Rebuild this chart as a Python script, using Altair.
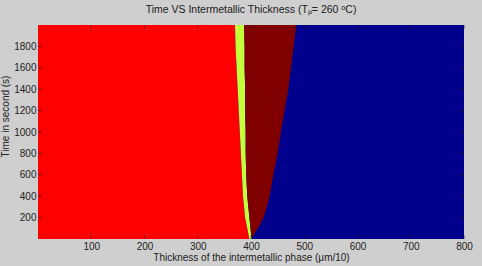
import altair as alt
import pandas as pd

# Time samples (s) and the phase boundaries read at each of them (µm/10)
time_s = [0, 100, 200, 400, 600, 800, 1000, 1200, 1400, 1600, 1800, 2000]
red_edge = [397, 393, 389, 385, 383, 381, 379, 377, 375, 373, 371, 370]
yellow_edge = [401, 399, 397, 393, 391, 390, 390, 389, 389, 388, 388, 387]
darkred_edge = [400, 413, 424, 435, 442, 450, 456, 463, 470, 475, 480, 485]

x_ticks = [100, 200, 300, 400, 500, 600, 700, 800]
y_ticks = [200, 400, 600, 800, 1000, 1200, 1400, 1600, 1800]

X_MIN, X_MAX = 0, 800
Y_MIN, Y_MAX = 0, 2000

W, H = 426, 214
FONT = "Liberation Sans"
GRAY = "#CFCFCF"

df = pd.DataFrame({
    "t": time_s,
    "lo": [X_MIN] * len(time_s),
    "a": red_edge,
    "b": yellow_edge,
    "c": darkred_edge,
})

xs = alt.Scale(domain=[X_MIN, X_MAX], nice=False, zero=False)
ys = alt.Scale(domain=[Y_MIN, Y_MAX], nice=False, zero=False)

x_axis = alt.Axis(values=x_ticks, format="d", ticks=False, domain=False, grid=False,
                  labelPadding=2, titlePadding=1, labelFlush=False,
                  title="Thickness of the intermetallic phase (μm/10)")
y_axis = alt.Axis(values=y_ticks, format="d", ticks=False, domain=False, grid=False,
                  labelPadding=2, titleX=-28, titleY=91, labelFlush=False,
                  title="Time in second (s)")

base = alt.Chart(df)


def band(x_field, x2_field, color):
    return base.mark_area(orient="horizontal", color=color, interpolate="linear").encode(
        y=alt.Y("t:Q", scale=ys, axis=y_axis),
        x=alt.X(f"{x_field}:Q", scale=xs, axis=x_axis),
        x2=f"{x2_field}:Q",
    )


red = band("lo", "a", "#FF0000")
yellow = band("a", "b", "#C4FF3C")
darkred = band("b", "c", "#800000")

# inward tick marks on all four sides
tick_color = "#202020"
ytk = pd.DataFrame({"t": y_ticks})
xtk = pd.DataFrame({"lo": x_ticks})
left_ticks = alt.Chart(ytk).mark_rule(color=tick_color, opacity=0.6).encode(
    y=alt.Y("t:Q", scale=ys, axis=y_axis), x=alt.value(0), x2=alt.value(4))
right_ticks = alt.Chart(ytk).mark_rule(color=tick_color, opacity=0.6).encode(
    y=alt.Y("t:Q", scale=ys, axis=y_axis), x=alt.value(W - 4), x2=alt.value(W))
bottom_ticks = alt.Chart(xtk).mark_rule(color=tick_color, opacity=0.6).encode(
    x=alt.X("lo:Q", scale=xs, axis=x_axis), y=alt.value(H - 4), y2=alt.value(H))
top_ticks = alt.Chart(xtk).mark_rule(color=tick_color, opacity=0.6).encode(
    x=alt.X("lo:Q", scale=xs, axis=x_axis), y=alt.value(0), y2=alt.value(4))

chart = alt.layer(
    red, yellow, darkred, left_ticks, right_ticks, bottom_ticks, top_ticks
).properties(
    width=W,
    height=H,
    title=alt.TitleParams("Time VS Intermetallic Thickness (Tₚ= 260 ᵒC)",
                          fontSize=10.5, fontWeight="normal", font=FONT,
                          color="#1a1a1a", offset=9, anchor="middle"),
    autosize=alt.AutoSizeParams(type="none"),
    padding={"left": 38, "top": 25, "right": 18, "bottom": 27},
    background=GRAY,
).configure_view(
    fill="#00008C", stroke=None,
).configure_axis(
    labelFont=FONT, titleFont=FONT, labelFontSize=10, titleFontSize=10,
    labelColor="#222222", titleColor="#222222", titleFontWeight="normal",
)

chart.save("out.html", embed_options={"renderer": "svg", "actions": False})
